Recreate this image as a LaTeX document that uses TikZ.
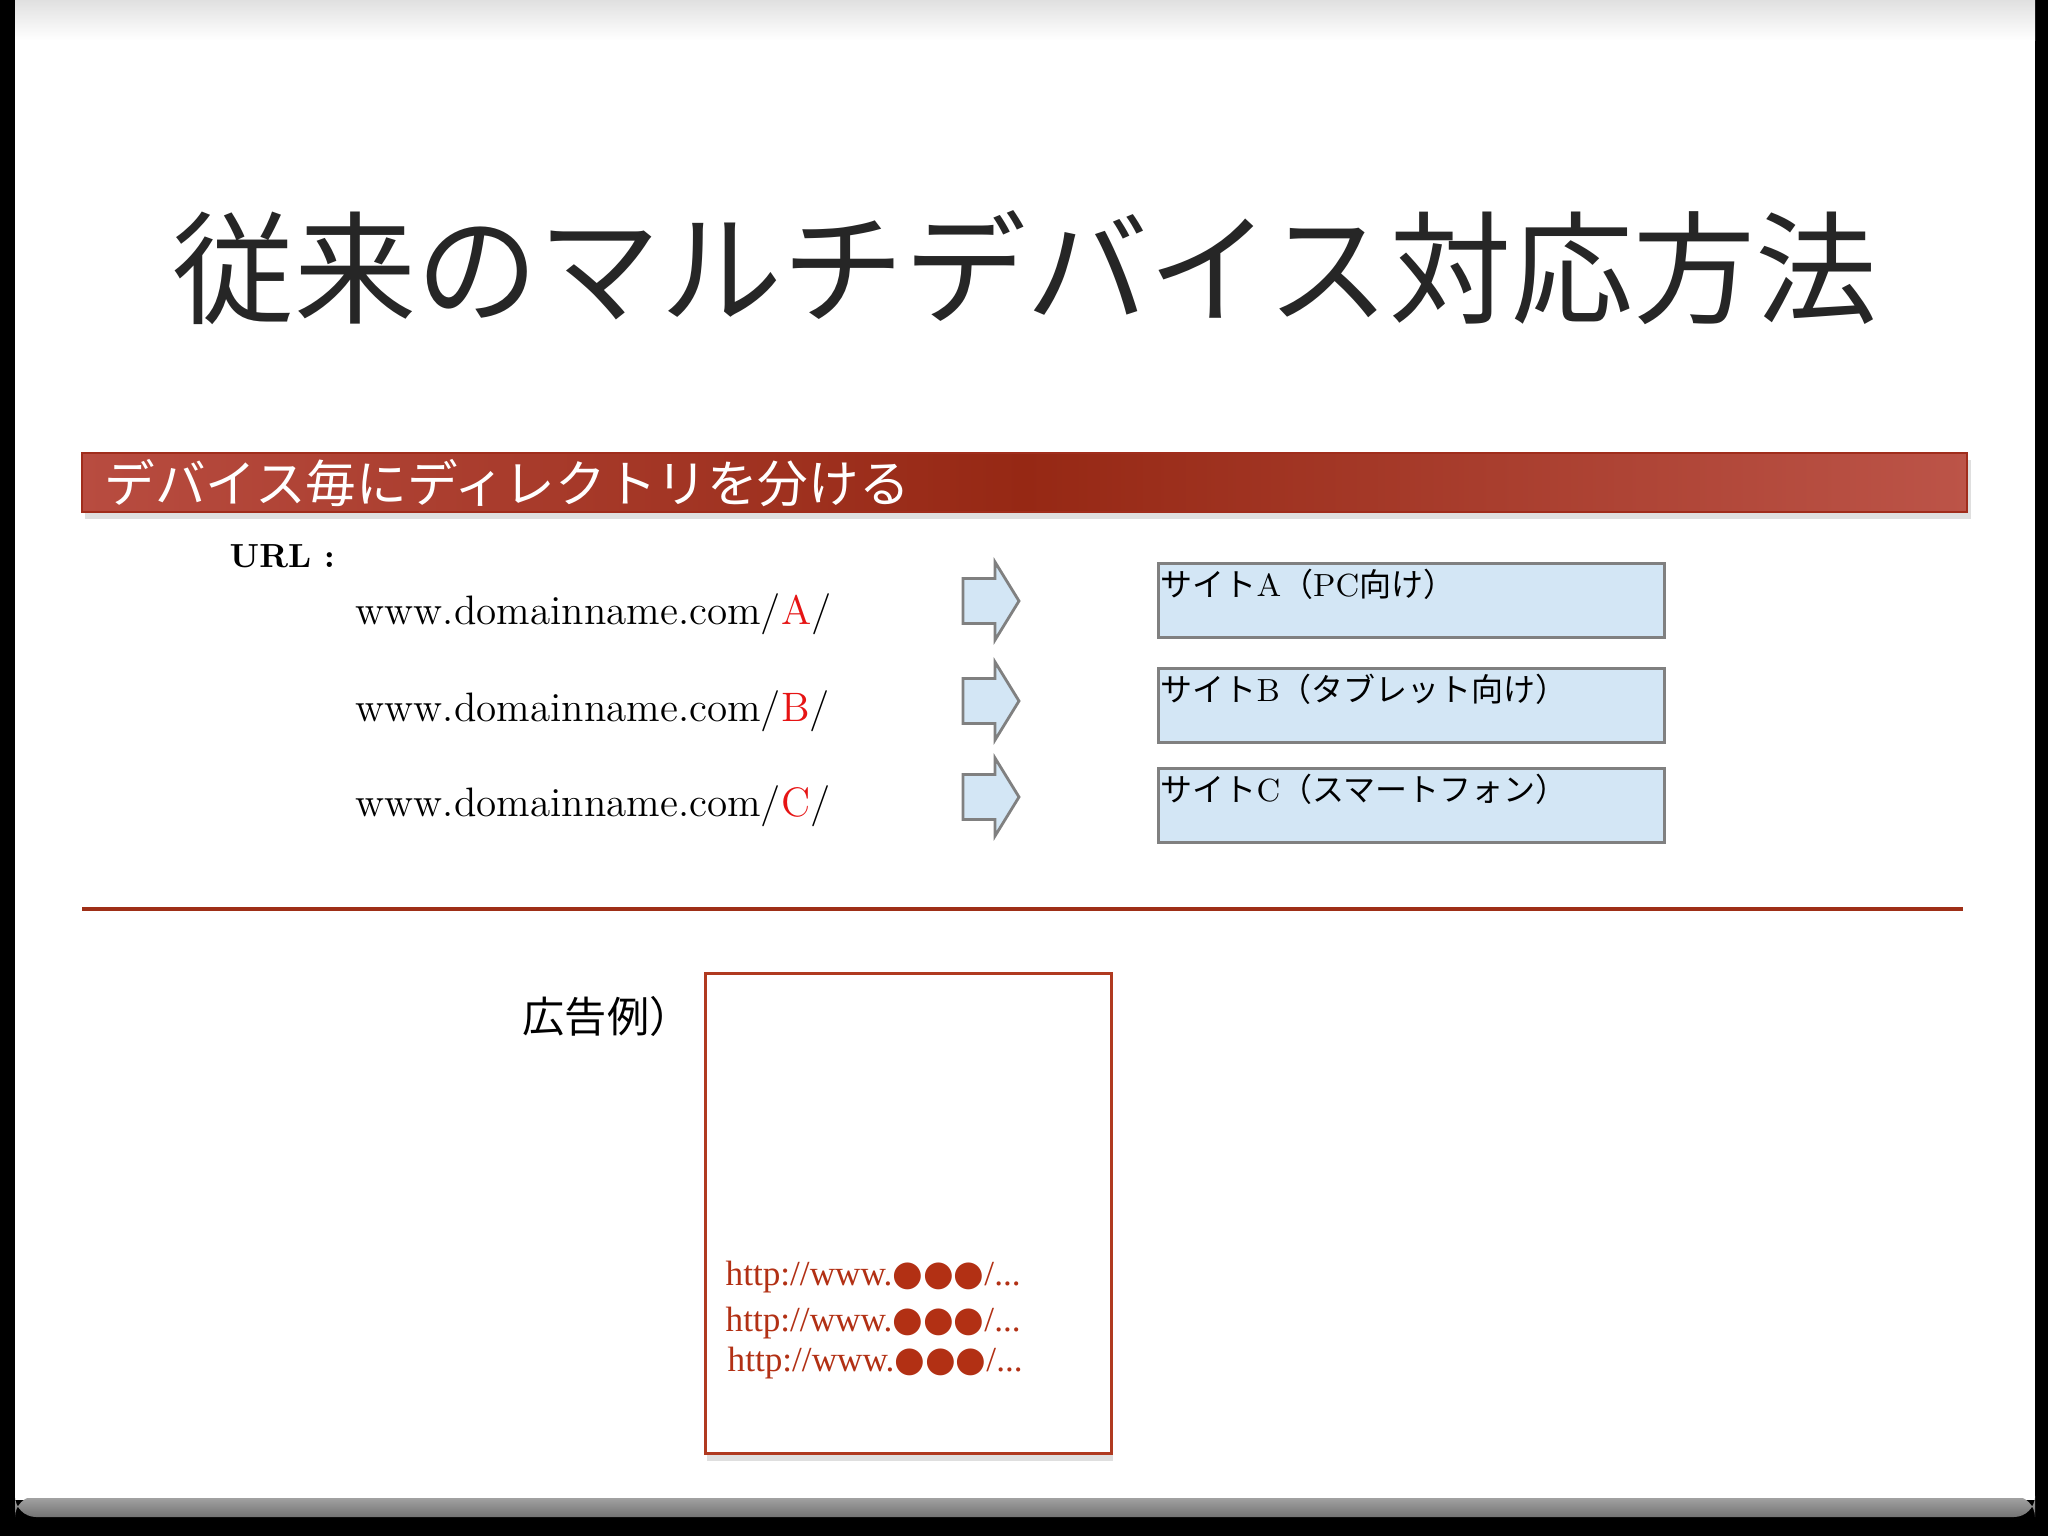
\documentclass[tikz,border=0pt]{standalone}
\usepackage{fontspec}
\newfontfamily\cjk{Noto Sans CJK JP}
\newfontfamily\dejavu{DejaVu Sans}
\newfontfamily\libserif{Liberation Serif}
\usetikzlibrary{shadows}
\definecolor{barL}{RGB}{184,76,64}
\definecolor{barM}{RGB}{150,40,20}
\definecolor{barR}{RGB}{188,84,72}
\definecolor{barEdge}{RGB}{160,45,28}
\definecolor{sepRed}{RGB}{158,47,23}
\definecolor{adRed}{RGB}{178,48,20}
\definecolor{adEdge}{RGB}{176,58,32}
\definecolor{urlRed}{RGB}{230,20,20}
\definecolor{boxFill}{RGB}{211,230,245}
\definecolor{boxEdge}{RGB}{128,128,128}
\newcommand\jp[1]{{\cjk #1}}
\tikzset{
  sitebox/.style={draw=boxEdge, line width=0.8pt, fill=boxFill, inner sep=0pt,
    minimum width=5.06cm, minimum height=0.74cm, anchor=north west},
  sitetext/.style={anchor=north west, inner sep=0pt, font=\fontsize{9.1}{11}\selectfont},
  urltext/.style={anchor=west, inner sep=0pt, font=\fontsize{11.7}{13}\selectfont},
  adtext/.style={anchor=west, inner sep=0pt, text=adRed, font=\libserif\fontsize{10}{12}\selectfont},
  blockarrow/.style={draw=boxEdge, line width=0.8pt, fill=boxFill, line join=miter},
}
\newcommand\myarrow[1]{%
  \draw[blockarrow] (963,{#1-22.5}) -- (995,{#1-22.5}) -- (995,{#1-39}) -- (1019,#1)
    -- (995,{#1+39}) -- (995,{#1+22.5}) -- (963,{#1+22.5}) -- cycle;}
\begin{document}
\begin{tikzpicture}[x=0.01cm,y=-0.01cm]
\useasboundingbox (0,0) rectangle (2048,1536);
% page
\fill[black] (0,0) rectangle (2048,1536);
\fill[white] (15,0) rectangle (2035,1500);
\shade[top color=black!12, bottom color=white] (15,0) rectangle (2035,40);
\shade[top color=black!35, bottom color=black!55, rounded corners=6pt] (15,1496) rectangle (2035,1517);
\fill[white] (15,1480) rectangle (2035,1498);
% title
\node[font=\cjk\fontsize{34.7}{40}\selectfont, text=black!85, inner sep=0pt] (title) at (1025,268) {従来のマルチデバイス対応方法};
% bar
\node[anchor=north west, inner sep=0pt, minimum width=18.84cm, minimum height=0.59cm,
  left color=barL, right color=barR, middle color=barM, draw=barEdge, line width=0.5pt,
  drop shadow={shadow xshift=1pt, shadow yshift=-2pt, opacity=0.25}] (bar) at (81,452) {};
\node[anchor=west, inner sep=0pt, text=white, font=\cjk\fontsize{14.4}{16}\selectfont] (bartext) at (104,483) {デバイス毎にディレクトリを分ける};
% URL list
\node[anchor=west, inner sep=0pt, font=\bfseries\fontsize{9.5}{11}\selectfont] (urllabel) at (229,556) {URL :};
\node[urltext] (urlA) at (355,614) {www.domainname.com/\textcolor{urlRed}{A}/};
\node[urltext] (urlB) at (355,711) {www.domainname.com/\textcolor{urlRed}{B}/};
\node[urltext] (urlC) at (355,806) {www.domainname.com/\textcolor{urlRed}{C}/};
% arrows
\myarrow{601}
\myarrow{701}
\myarrow{797}
% site boxes
\node[sitebox] (boxA) at (1157,562) {};
\node[sitebox] (boxB) at (1157,667) {};
\node[sitebox] (boxC) at (1157,767) {};
\node[sitetext] (textA) at ([xshift=0.8pt,yshift=-1.8pt]boxA.north west) {\jp{サイト}A\jp{（}PC\jp{向け）}};
\node[sitetext] (textB) at ([xshift=0.8pt,yshift=-1.8pt]boxB.north west) {\jp{サイト}B\jp{（タブレット向け）}};
\node[sitetext] (textC) at ([xshift=0.8pt,yshift=-1.8pt]boxC.north west) {\jp{サイト}C\jp{（スマートフォン）}};
% separator
\coordinate (sepL) at (82,909);
\coordinate (sepR) at (1963,909);
\draw[sepRed, line width=1.1pt] (sepL) -- (sepR);
% ad example
\node[anchor=west, inner sep=0pt, font=\cjk\fontsize{12}{14}\selectfont] (adlabel) at (522,1016) {広告例）};
\node[anchor=north west, inner sep=0pt, minimum width=4.06cm, minimum height=4.80cm,
  draw=adEdge, line width=0.8pt, fill=white,
  drop shadow={shadow xshift=0.5pt, shadow yshift=-2pt, opacity=0.25}] (adbox) at (704,972) {};
\node[adtext] (ad1) at (725,1277) {http://www.{\dejavu ●●●}/...};
\node[adtext] (ad2) at (725,1323) {http://www.{\dejavu ●●●}/...};
\node[adtext] (ad3) at (727,1363) {http://www.{\dejavu ●●●}/...};
\end{tikzpicture}
\end{document}
